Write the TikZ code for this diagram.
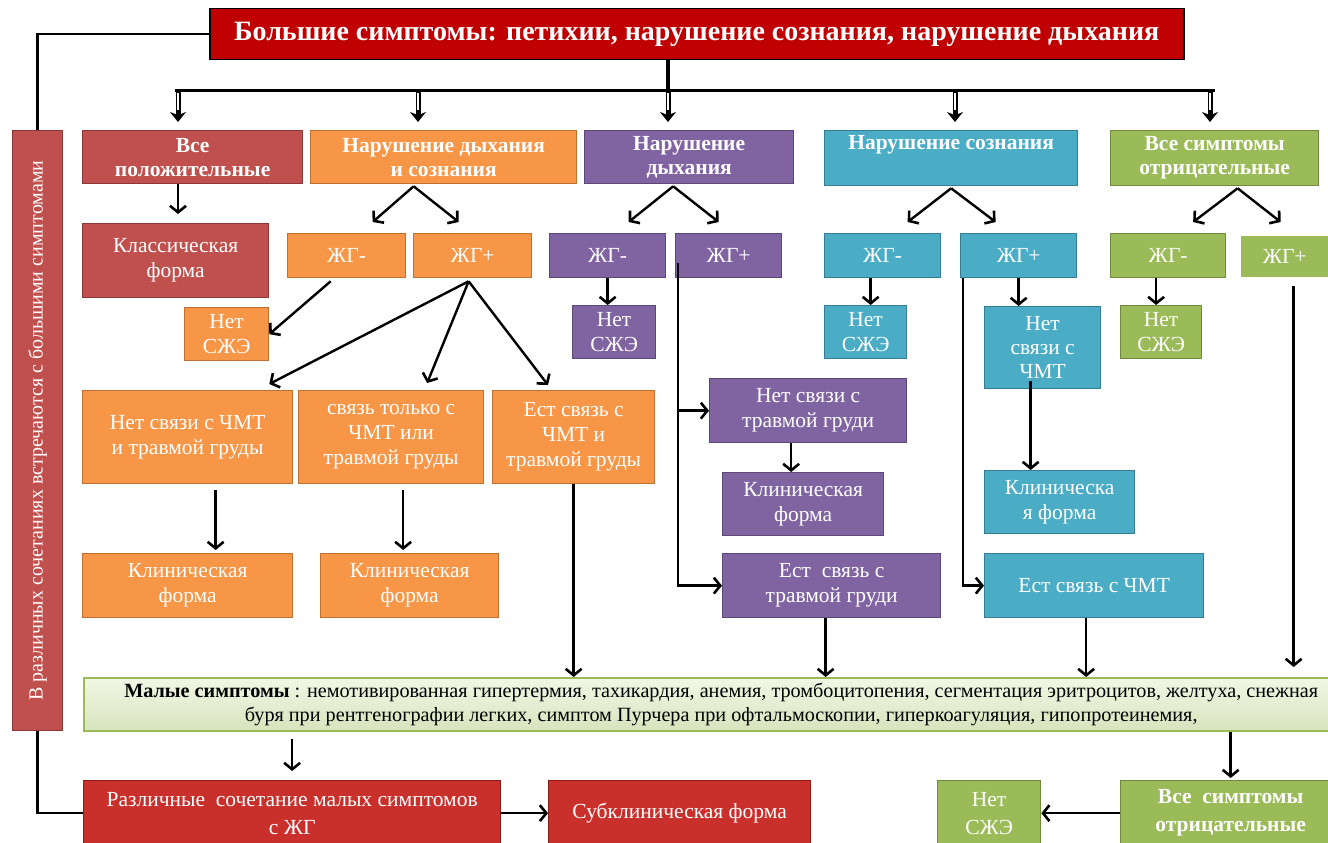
\documentclass[tikz,border=0pt]{standalone}
\usepackage{fontspec}
\setmainfont{Liberation Serif}
\usetikzlibrary{arrows.meta,calc}
\definecolor{cTop}{HTML}{C00000}
\definecolor{cRed}{HTML}{C0504D}
\definecolor{cRedD}{HTML}{8C3836}
\definecolor{cOr}{HTML}{F79646}
\definecolor{cOrD}{HTML}{C0702F}
\definecolor{cPu}{HTML}{8064A2}
\definecolor{cPuD}{HTML}{5C4776}
\definecolor{cTe}{HTML}{4BACC6}
\definecolor{cTeD}{HTML}{357D91}
\definecolor{cGr}{HTML}{9BBB59}
\definecolor{cGrD}{HTML}{71893F}
\definecolor{cBr}{HTML}{C9302C}
\definecolor{cBrD}{HTML}{8C1C1A}
\definecolor{cMsA}{HTML}{F2F7E6}
\definecolor{cMsB}{HTML}{D7E4BD}
\begin{document}
\begin{tikzpicture}[x=1pt,y=-1pt,
  bx/.style={anchor=north west, inner sep=1pt, align=center, text=white, line width=1.3pt,
    font=\fontsize{21.5}{25}\selectfont},
  hd/.style={bx, font=\bfseries\fontsize{21.5}{24}\selectfont},
  rb/.style={fill=cRed, draw=cRedD},
  ob/.style={fill=cOr, draw=cOrD},
  pb/.style={fill=cPu, draw=cPuD},
  tb/.style={fill=cTe, draw=cTeD},
  gb/.style={fill=cGr, draw=cGrD},
  brb/.style={fill=cBr, draw=cBrD},
  arr/.style={line width=2.4pt, -{Straight Barb[length=6.5pt,width=16pt,line width=2.6pt]}},
  thin/.style={line width=2.4pt},
]
\useasboundingbox (0,0) rectangle (1328,843);
\clip (0,0) rectangle (1328,843);

% top
\node[bx, fill=cTop, draw=black, line width=1.5pt, minimum width=974pt, minimum height=51pt,
  font=\bfseries\fontsize{28}{30}\selectfont] (top) at (209,8)
  {Большие симптомы: петихии, нарушение сознания, нарушение дыхания};

% left bar
\node[bx, rb, minimum width=50pt, minimum height=600pt, font=\fontsize{20}{22}\selectfont] (bar) at (12,130)
  {\rotatebox{90}{В различных сочетаниях встречаются с большими симптомами}};

% headers
\node[hd, rb, minimum width=220pt, minimum height=53pt] (h1) at (82,130) {Все\\положительные};
\node[hd, ob, minimum width=266pt, minimum height=53pt] (h2) at (310,130) {Нарушение дыхания\\и сознания};
\node[hd, pb, minimum width=209pt, minimum height=53pt] (h3) at (584,130) {Нарушение\\дыхания};
\node[hd, tb, minimum width=253pt, minimum height=55pt] (h4) at (824,130) {Нарушение сознания\\\strut};
\node[hd, gb, minimum width=208pt, minimum height=55pt] (h5) at (1110,130) {Все симптомы\\отрицательные};

% bus
\coordinate (b1) at (178,90);
\coordinate (b2) at (418,90);
\coordinate (b3) at (668,90);
\coordinate (b4) at (955,90);
\coordinate (b5) at (1210,90);
\draw[line width=4pt] (top.south -| b3) -- (b3);
\draw[line width=3pt] ([xshift=-3pt]b1) -- ([xshift=5pt]b5);
\foreach \b in {b1,b2,b3,b4,b5}{
  \draw[line width=5pt, -{Stealth[length=10pt,width=16pt]}, shorten >=8pt] (\b) -- (\b |- h1.north);
  \draw[white, line width=1.4pt] ([yshift=-3pt]\b) -- ([yshift=-20pt]\b);
}

% left bar connectors
\draw[thin] (top.west) -| (bar.north);

% dark red column
\node[bx, rb, minimum width=186pt, minimum height=74pt] (kf) at (82,223) {Классическая\\форма};
\draw[arr, shorten >=9pt] (h1.south -| b1) -- (kf.north -| b1);

% orange column
\node[bx, ob, minimum width=118pt, minimum height=44pt] (om) at (287,233) {ЖГ-};
\node[bx, ob, minimum width=118pt, minimum height=44pt] (op) at (413,233) {ЖГ+};
\node[bx, ob, minimum width=84pt, minimum height=53pt] (on) at (184,307) {Нет\\СЖЭ};
\node[bx, ob, minimum width=210pt, minimum height=93pt] (o1) at (82,390) {Нет связи с ЧМТ\\и травмой груды};
\node[bx, ob, minimum width=185pt, minimum height=93pt] (o2) at (298,390) {связь только с\\ЧМТ или\\травмой груды};
\node[bx, ob, minimum width=162pt, minimum height=93pt] (o3) at (492,390) {Ест связь с\\ЧМТ и\\травмой груды};
\node[bx, ob, minimum width=210pt, minimum height=64pt] (ok1) at (82,553) {Клиническая\\форма};
\node[bx, ob, minimum width=178pt, minimum height=64pt] (ok2) at (320,553) {Клиническая\\форма};
\draw[arr] ([shift={(-30,2)}]h2.south) -- ([shift={(26,-11)}]om.north);
\draw[arr] ([shift={(-30,2)}]h2.south) -- ([shift={(-14,-11)}]op.north);
\draw[arr] ([shift={(-16,3)}]om.south) -- (on.east);
\draw[arr] ([shift={(-4,3)}]op.south) -- ([shift={(-24,-6)}]o1.north east);
\draw[arr] ([shift={(-4,3)}]op.south) -- ([shift={(36,-7)}]o2.north);
\draw[arr] ([shift={(-4,3)}]op.south) -- ([shift={(56,-5)}]o3.north west);
\draw[arr, shorten <=6pt, shorten >=3pt] ([xshift=28pt]o1.south) -- ([xshift=28pt]o1.south |- ok1.north);
\draw[arr, shorten <=6pt, shorten >=3pt] ([xshift=12pt]o2.south) -- ([xshift=12pt]o2.south |- ok2.north);

% purple column
\node[bx, pb, minimum width=116pt, minimum height=44pt] (pm) at (549,233) {ЖГ-};
\node[bx, pb, minimum width=106pt, minimum height=44pt] (pp) at (675,233) {ЖГ+};
\node[bx, pb, minimum width=83pt, minimum height=53pt] (pn) at (572,305) {Нет\\СЖЭ};
\node[bx, pb, minimum width=197pt, minimum height=64pt] (p1) at (709,378) {Нет связи с\\травмой груди};
\node[bx, pb, minimum width=161pt, minimum height=63pt] (pk) at (722,472) {Клиническая\\форма};
\node[bx, pb, minimum width=218pt, minimum height=64pt] (p2) at (722,553) {Ест\ \ связь с\\травмой груди};
\draw[arr] ([shift={(-16,2)}]h3.south) -- ([shift={(21,-11)}]pm.north);
\draw[arr] ([shift={(-16,2)}]h3.south) -- ([shift={(-10,-11)}]pp.north);
\draw[arr] (pm.south) -- (pm.south |- pn.north);
\draw[thin] ([shift={(3,-15)}]pp.south west) -- ([xshift=3pt]pp.south west);
\draw[arr] ([xshift=3pt]pp.south west) |- (p2.west);
\draw[arr] ([xshift=3pt]pp.south west |- p1.west) -- (p1.west);
\draw[arr] ([xshift=-17pt]p1.south) -- ([xshift=-17pt]p1.south |- pk.north);

% teal column
\node[bx, tb, minimum width=116pt, minimum height=44pt] (tm) at (824,233) {ЖГ-};
\node[bx, tb, minimum width=116pt, minimum height=44pt] (tp) at (960,233) {ЖГ+};
\node[bx, tb, minimum width=82pt, minimum height=53pt] (tn) at (824,305) {Нет\\СЖЭ};
\node[bx, tb, minimum width=116pt, minimum height=82pt, font=\fontsize{21.5}{24}\selectfont] (t1) at (984,306) {Нет\\связи с\\ЧМТ};
\node[bx, tb, minimum width=150pt, minimum height=63pt] (tk) at (984,470) {Клиническа\\я форма};
\node[bx, tb, minimum width=219pt, minimum height=64pt] (t2) at (984,553) {Ест связь с ЧМТ};
\draw[arr] ([yshift=-2pt]h4.south) -- ([shift={(25,-11)}]tm.north);
\draw[arr] ([yshift=-2pt]h4.south) -- ([shift={(-23,-11)}]tp.north);
\draw[arr] ([xshift=-12pt]tm.south) -- ([xshift=-12pt]tm.south |- tn.north);
\draw[arr] (tp.south) -- (tp.south |- t1.north);
\draw[arr] ([shift={(-12,-8)}]t1.south) -- ([xshift=-12pt]t1.south |- tk.north);
\draw[arr] ([xshift=3pt]tp.south west) |- (t2.west);

% green column
\node[bx, gb, minimum width=115pt, minimum height=44pt] (gm) at (1110,233) {ЖГ-};
\node[bx, fill=cGr, draw=white, minimum width=100pt, minimum height=42pt] (gp) at (1240,235) {\hspace*{-12pt}ЖГ+};
\node[bx, gb, minimum width=81pt, minimum height=53pt] (gn) at (1120,305) {Нет\\СЖЭ};
\draw[arr] ([shift={(23,2)}]h5.south) -- ([shift={(25,-11)}]gm.north);
\draw[arr] ([shift={(23,2)}]h5.south) -- ([shift={(-10,-13)}]gp.north);
\draw[arr] ([xshift=-12pt]gm.south) -- ([xshift=-12pt]gm.south |- gn.north);

% small symptoms
\node[anchor=north west, draw=cGr, line width=1.5pt, top color=cMsA, bottom color=cMsB,
  minimum width=1275pt, minimum height=53pt, inner sep=2pt, align=center,
  font=\fontsize{20.2}{23.5}\selectfont] (ms) at (83,677)
  {\textbf{Малые симптомы} : немотивированная гипертермия, тахикардия, анемия, тромбоцитопения, сегментация эритроцитов, желтуха, снежная\\
   буря при рентгенографии легких, симптом Пурчера при офтальмоскопии, гиперкоагуляция, гипопротеинемия,};

\draw[arr] (o3.south) -- (o3.south |- ms.north);
\draw[arr] ([xshift=-6pt]p2.south) -- ([xshift=-6pt]p2.south |- ms.north);
\draw[arr] ([xshift=-8pt]t2.south) -- ([xshift=-8pt]t2.south |- ms.north);
\draw[arr, shorten <=8pt, shorten >=10pt] ([xshift=3pt]gp.south) -- ([xshift=3pt]gp.south |- ms.north);

% bottom row
\node[bx, brb, minimum width=417pt, minimum height=65pt, font=\fontsize{21.5}{28}\selectfont] (rz) at (83,780) {Различные\ \ сочетание малых симптомов\\с ЖГ};
\node[bx, brb, minimum width=262pt, minimum height=65pt] (sb) at (548,780) {Субклиническая форма};
\node[bx, gb, minimum width=220pt, minimum height=65pt, font=\bfseries\fontsize{21.5}{28}\selectfont] (gb2) at (1120,780) {Все\ \ симптомы\\отрицательные};
\node[bx, gb, minimum width=103pt, minimum height=65pt, font=\fontsize{21.5}{28}\selectfont] (gn2) at (937,780) {Нет\\СЖЭ};
\draw[thin] (bar.south) |- (rz.west);
\draw[arr, shorten <=7pt, shorten >=9pt] (rz.north |- ms.south) -- (rz.north);
\draw[arr] (rz.east) -- (sb.west);
\draw[arr, shorten >=2pt] (gb2.north |- ms.south) -- (gb2.north);
\draw[arr] (gb2.west) -- (gn2.east);
\end{tikzpicture}
\end{document}
